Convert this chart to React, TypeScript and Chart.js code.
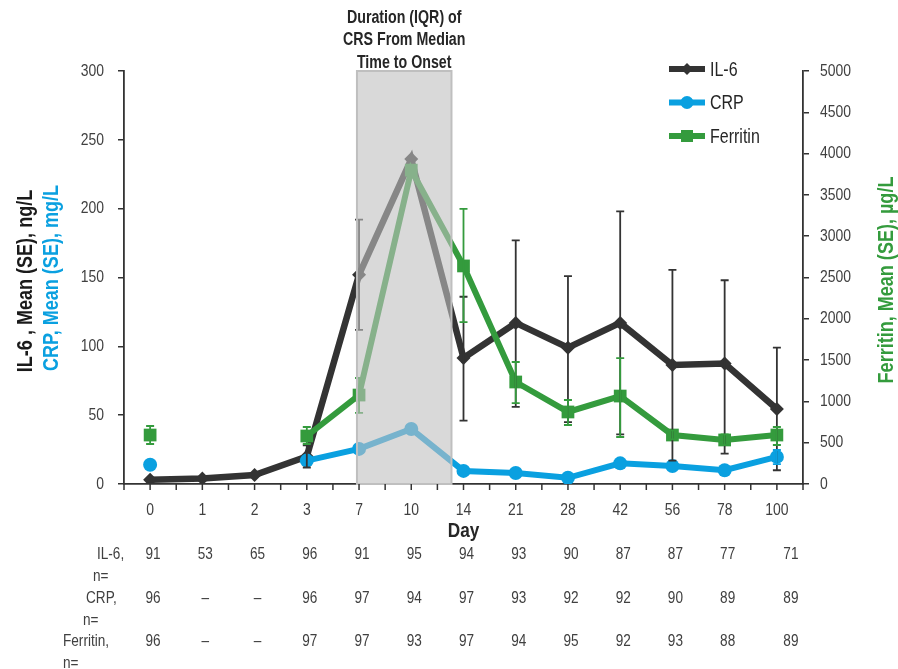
import { useEffect, useRef } from 'react';
import { Chart, registerables } from 'chart.js';
Chart.register(...registerables);

const days = ['0', '1', '2', '3', '7', '10', '14', '21', '28', '42', '56', '78', '100'];
const il6 = [3, 4, 6.5, 20, 152, 236, 91.5, 117, 99, 117, 86.5, 87.5, 54.5];
const il6Low = [null, null, null, 12, 112, null, 46, 56, 45, 36, 17, 22, 10];
const il6High = [null, null, null, 28, 192, null, 136, 177, 151, 198, 155.5, 148, 99];
const crp = [14, null, null, 17, 25.5, 40, 9.5, 8, 4.5, 15, 13, 10, 19.7];
const crpLow = [null, null, null, null, null, null, null, null, null, null, null, null, 14.5];
const crpHigh = [null, null, null, null, null, null, null, null, null, null, null, null, 24.7];
const ferritin = [593, null, null, 581, 1077, 3800, 2640, 1235, 872, 1065, 593, 533, 593];
const ferLow = [484, null, null, 484, 860, null, 1960, 980, 714, 569, 540, 470, 472];
const ferHigh = [702, null, null, 690, 1283, null, 3330, 1477, 1017, 1525, 650, 600, 690];
const nIL6 = ['91', '53', '65', '96', '91', '95', '94', '93', '90', '87', '87', '77', '71'];
const nCRP = ['96', '–', '–', '96', '97', '94', '97', '93', '92', '92', '90', '89', '89'];
const nFer = ['96', '–', '–', '97', '97', '93', '97', '94', '95', '92', '93', '88', '89'];
const tableRows = [
  { label: ['IL-6,', 'n='], values: nIL6 },
  { label: ['CRP,', 'n='], values: nCRP },
  { label: ['Ferritin,', 'n='], values: nFer },
];
const boxStart = 3.96; // category index units
const boxEnd = 5.77;
const boxTitle = ['Duration (IQR) of', 'CRS From Median', 'Time to Onset'];

const C_IL6 = '#333333';
const C_CRP = '#0aa0e0';
const C_FER = '#349b3d';
const TXT = '#404040';
const FONT = '"Liberation Sans", Arial, sans-serif';

function txt(ctx: any, t: string, x: number, y: number, opts: { size: number; bold?: boolean; color: string; align?: string; sx?: number; rot?: number }) {
  ctx.save();
  ctx.translate(x, y);
  if (opts.rot) ctx.rotate(opts.rot);
  ctx.scale(opts.sx ?? 0.8, 1);
  ctx.font = `${opts.bold ? 'bold ' : ''}${opts.size}px ${FONT}`;
  ctx.fillStyle = opts.color;
  ctx.textAlign = opts.align ?? 'left';
  ctx.textBaseline = 'middle';
  ctx.fillText(t, 0, 0);
  ctx.restore();
}

export default function App() {
  const ref = useRef<HTMLCanvasElement | null>(null);
  useEffect(() => {
    if (!ref.current) return;
    const errSets = [
      { low: il6Low, high: il6High, color: C_IL6, axis: 'y' },
      { low: crpLow, high: crpHigh, color: C_CRP, axis: 'y' },
      { low: ferLow, high: ferHigh, color: C_FER, axis: 'y1' },
    ];
    const overlay = {
      id: 'overlay',
      afterDatasetsDraw(chart: any) {
        const ctx = chart.ctx;
        const xs = chart.scales.x;
        const area = chart.chartArea;
        ctx.save();
        errSets.forEach((s) => {
          const ys = chart.scales[s.axis];
          ctx.strokeStyle = s.color;
          ctx.lineWidth = 1.8;
          s.low.forEach((lo: any, i: number) => {
            const hi = s.high[i];
            if (lo == null || hi == null) return;
            const x = xs.getPixelForValue(i);
            const y1 = ys.getPixelForValue(lo);
            const y2 = ys.getPixelForValue(hi);
            ctx.beginPath();
            ctx.moveTo(x, y1); ctx.lineTo(x, y2);
            ctx.moveTo(x - 4, y1); ctx.lineTo(x + 4, y1);
            ctx.moveTo(x - 4, y2); ctx.lineTo(x + 4, y2);
            ctx.stroke();
          });
        });
        const bx1 = xs.getPixelForValue(boxStart);
        const bx2 = xs.getPixelForValue(boxEnd);
        ctx.fillStyle = 'rgba(192,192,192,0.6)';
        ctx.fillRect(bx1, area.top, bx2 - bx1, area.bottom - area.top);
        ctx.strokeStyle = '#bfbfbf';
        ctx.lineWidth = 2;
        ctx.strokeRect(bx1, area.top, bx2 - bx1, area.bottom - area.top);
        ctx.restore();
      },
      afterDraw(chart: any) {
        const ctx = chart.ctx;
        const xs = chart.scales.x;
        const yl = chart.scales.y;
        const yr = chart.scales.y1;
        const area = chart.chartArea;
        ctx.save();
        // x ticks at centers and boundaries
        ctx.strokeStyle = '#333333';
        ctx.lineWidth = 1.5;
        const n = days.length * 2;
        for (let i = 0; i <= n; i++) {
          const x = area.left + (i * (area.right - area.left)) / n;
          ctx.beginPath();
          ctx.moveTo(x, area.bottom);
          ctx.lineTo(x, area.bottom + 6);
          ctx.stroke();
        }
        // tick labels
        yl.ticks.forEach((t: any) => txt(ctx, String(t.value), area.left - 20, yl.getPixelForValue(t.value), { size: 17, color: TXT, align: 'right', sx: 0.82 }));
        yr.ticks.forEach((t: any) => txt(ctx, String(t.value), area.right + 17, yr.getPixelForValue(t.value), { size: 17, color: TXT, align: 'left', sx: 0.82 }));
        days.forEach((d, i) => txt(ctx, d, xs.getPixelForValue(i), 510, { size: 17, color: TXT, align: 'center', sx: 0.82 }));
        // box title
        const bxc = (xs.getPixelForValue(boxStart) + xs.getPixelForValue(boxEnd)) / 2;
        boxTitle.forEach((t, i) => txt(ctx, t, bxc, 18 + i * 22.5, { size: 18, bold: true, color: '#262626', align: 'center', sx: 0.79 }));
        // legend
        const leg = [
          { t: 'IL-6', c: C_IL6, s: 'diamond' },
          { t: 'CRP', c: C_CRP, s: 'circle' },
          { t: 'Ferritin', c: C_FER, s: 'square' },
        ];
        leg.forEach((l, i) => {
          const y = 69 + i * 33.5;
          ctx.strokeStyle = l.c;
          ctx.fillStyle = l.c;
          ctx.lineWidth = 6;
          ctx.beginPath();
          ctx.moveTo(669, y); ctx.lineTo(705, y);
          ctx.stroke();
          ctx.beginPath();
          if (l.s === 'diamond') {
            ctx.moveTo(687, y - 6); ctx.lineTo(693, y); ctx.lineTo(687, y + 6); ctx.lineTo(681, y);
            ctx.closePath(); ctx.fill();
          } else if (l.s === 'circle') {
            ctx.arc(687, y, 6.5, 0, Math.PI * 2); ctx.fill();
          } else {
            ctx.fillRect(681, y - 6, 12, 12);
          }
          txt(ctx, l.t, 710, y + 1, { size: 20, color: '#262626', sx: 0.8 });
        });
        // axis titles
        const R = -Math.PI / 2;
        txt(ctx, 'IL-6 , Mean (SE), ng/L', 26, 281, { size: 22, bold: true, color: '#1a1a1a', align: 'center', sx: 0.82, rot: R });
        txt(ctx, 'CRP, Mean (SE), mg/L', 52, 278, { size: 22, bold: true, color: C_CRP, align: 'center', sx: 0.82, rot: R });
        txt(ctx, 'Ferritin, Mean (SE), µg/L', 887, 280, { size: 22, bold: true, color: C_FER, align: 'center', sx: 0.82, rot: R });
        // Day title
        txt(ctx, 'Day', (area.left + area.right) / 2, 531, { size: 21, bold: true, color: '#262626', align: 'center', sx: 0.82 });
        // table
        const labelX = [[97, 93], [86, 83], [63, 63]];
        const rowY = [554, 598, 641];
        tableRows.forEach((r, ri) => {
          const y = rowY[ri];
          txt(ctx, r.label[0], labelX[ri][0], y, { size: 17, color: TXT, sx: 0.8 });
          txt(ctx, r.label[1], labelX[ri][1], y + 22, { size: 17, color: TXT, sx: 0.8 });
          r.values.forEach((v, i) => {
            const extra = i === r.values.length - 1 ? 11 : 0;
            txt(ctx, v, xs.getPixelForValue(i) + 3 + extra, y, { size: 17, color: TXT, align: 'center', sx: 0.8 });
          });
        });
        ctx.restore();
      },
    };

    const chart = new Chart(ref.current, {
      type: 'line',
      data: {
        labels: days,
        datasets: [
          {
            label: 'IL-6', data: il6, yAxisID: 'y', order: 2,
            borderColor: C_IL6, backgroundColor: C_IL6, borderWidth: 6.5,
            pointStyle: 'rectRot', pointRadius: 7, pointBorderWidth: 0,
            tension: 0, spanGaps: false,
          },
          {
            label: 'CRP', data: crp, yAxisID: 'y', order: 0,
            borderColor: C_CRP, backgroundColor: C_CRP, borderWidth: 6,
            pointStyle: 'circle', pointRadius: 7, pointBorderWidth: 0,
            tension: 0, spanGaps: false,
          },
          {
            label: 'Ferritin', data: ferritin, yAxisID: 'y1', order: 1,
            borderColor: C_FER, backgroundColor: C_FER, borderWidth: 6,
            pointStyle: 'rect', pointRadius: 9, pointBorderWidth: 0,
            tension: 0, spanGaps: false,
          },
        ],
      },
      options: {
        responsive: false,
        animation: false,
        layout: { padding: { top: 71, left: 0, right: 0, bottom: 0 } },
        plugins: { legend: { display: false }, tooltip: { enabled: false } },
        scales: {
          x: {
            offset: true,
            grid: { display: false },
            border: { display: true, color: '#333333', width: 1.8 },
            ticks: { display: false },
            afterFit: (s: any) => { s.height = 669 - 484; },
          },
          y: {
            position: 'left', min: 0, max: 300,
            grid: { drawOnChartArea: false, drawTicks: true, tickLength: 6, color: '#333333', lineWidth: 1.5 },
            border: { display: true, color: '#333333', width: 1.8 },
            ticks: { stepSize: 50, display: false },
            afterFit: (s: any) => { s.width = 124; },
          },
          y1: {
            position: 'right', min: 0, max: 5000,
            grid: { drawOnChartArea: false, drawTicks: true, tickLength: 6, color: '#333333', lineWidth: 1.5 },
            border: { display: true, color: '#333333', width: 1.8 },
            ticks: { stepSize: 500, display: false },
            afterFit: (s: any) => { s.width = 898 - 803; },
          },
        },
      },
      plugins: [overlay],
    } as any);
    return () => chart.destroy();
  }, []);
  return (
    <div style={{ position: 'fixed', left: 0, top: 0, width: 898, height: 669, background: '#fff' }}>
      <canvas ref={ref} width={898} height={669} style={{ width: 898, height: 669, display: 'block' }} />
    </div>
  );
}
